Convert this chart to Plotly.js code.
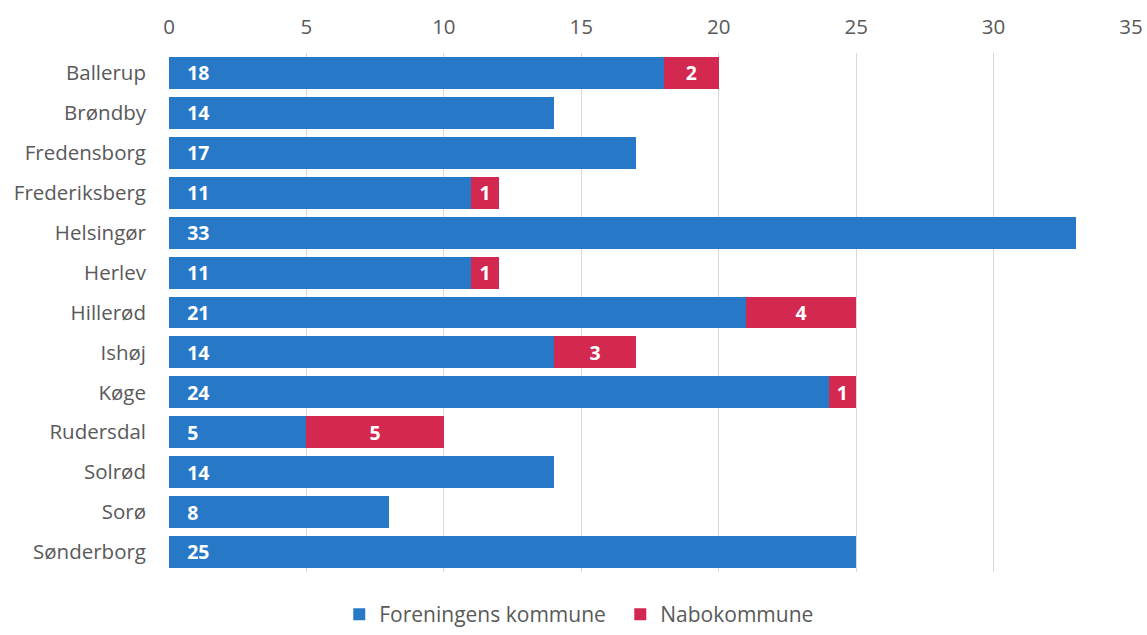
<!DOCTYPE html>
<html><head><meta charset="utf-8">
<script src="https://cdn.plot.ly/plotly-3.0.1.min.js"></script>
<style>body{margin:0;background:#fff}#chart{width:1147px;height:635px}</style>
</head><body><div id="chart"></div>
<script>
const categories = ["Ballerup","Brøndby","Fredensborg","Frederiksberg","Helsingør","Herlev","Hillerød","Ishøj","Køge","Rudersdal","Solrød","Sorø","Sønderborg"];
const foreningens = [18,14,17,11,33,11,21,14,24,5,14,8,25];
const nabo = [2,0,0,1,0,1,4,3,1,5,0,0,0];
const xTicks = [0,5,10,15,20,25,30,35];

const font = "'Open Sans', sans-serif";
const pad = '\u00A0\u00A0\u00A0';
const traces = [
  {type:'bar', orientation:'h', name:'Foreningens kommune', y:categories, x:foreningens,
   marker:{color:'#2878C8'}, text:foreningens.map(v=>pad+v), textposition:'inside', insidetextanchor:'start', textangle:0,
   textfont:{color:'#fff', size:21, family:font, weight:'bold'}, hoverinfo:'x+y'},
  {type:'bar', orientation:'h', name:'Nabokommune', y:categories, x:nabo.map(v=>v||null),
   marker:{color:'#D3284F'}, text:nabo.map(v=>v?String(v):''), textposition:'inside', insidetextanchor:'middle', textangle:0,
   textfont:{color:'#fff', size:21, family:font, weight:'bold'}, hoverinfo:'x+y'}
];
const layout = {
  barmode:'stack', bargap:0.2,
  width:1147, height:635,
  margin:{l:169, r:16, t:53, b:63},
  paper_bgcolor:'#fff', plot_bgcolor:'#fff',
  font:{family:font, color:'#595959', size:20},
  xaxis:{side:'top', range:[0,35], tickvals:xTicks, ticktext:xTicks.map(String), showgrid:true, gridcolor:'#D9D9D9', gridwidth:1.3,
         zeroline:false, showline:false, ticks:'', tickfont:{size:20.5, color:'#595959'}, ticklabelstandoff:14},
  yaxis:{autorange:'reversed', showgrid:false, zeroline:false, showline:false, ticks:'', ticklabelstandoff:22, tickfont:{size:20.5, color:'#595959'}},
  legend:{orientation:'h', x:0.177, xanchor:'left', xref:'paper', yref:'container', y:-0.034, yanchor:'bottom', entrywidth:236,
          font:{size:21, color:'#595959'}, itemwidth:20, traceorder:'normal'},
  showlegend:true
};
Plotly.newPlot('chart', traces, layout, {displayModeBar:false});
</script></body></html>
